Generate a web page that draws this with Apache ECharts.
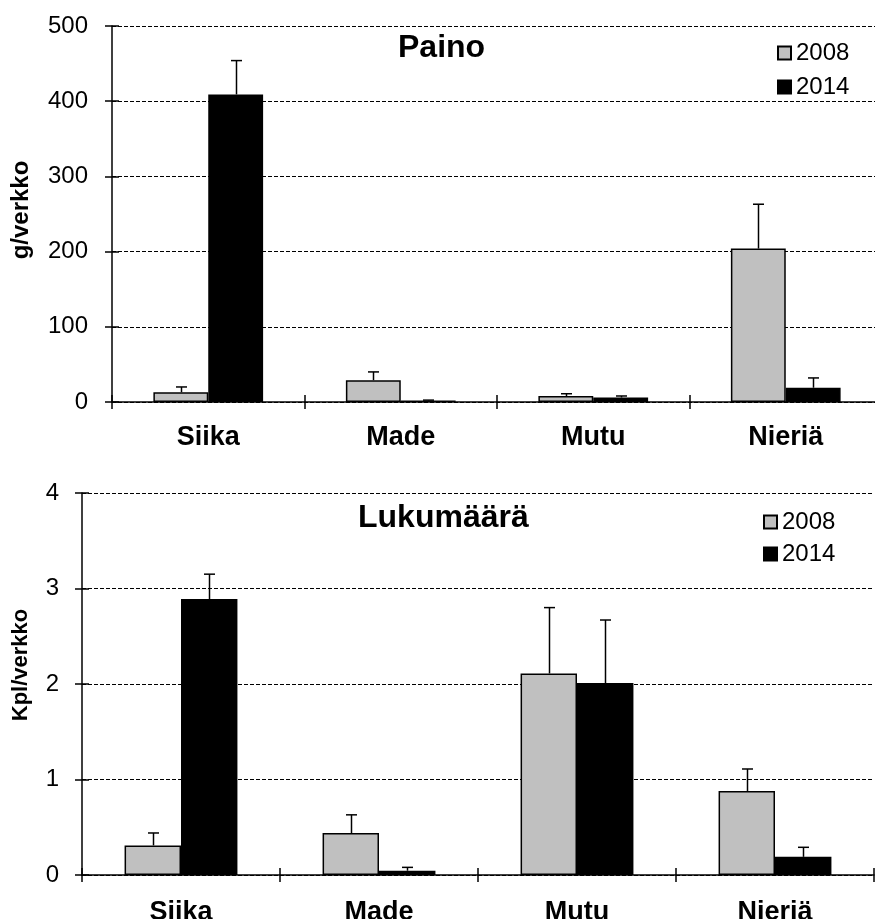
<!DOCTYPE html>
<html>
<head>
<meta charset="utf-8">
<script src="https://cdn.jsdelivr.net/npm/echarts@6/dist/echarts.min.js"></script>
<style>html,body{margin:0;padding:0;background:#fff}#c{width:875px;height:919px}</style>
</head>
<body>
<div id="c"></div>
<script>
var categories = ['Siika', 'Made', 'Mutu', 'Nieriä'];
var seriesNames = ['2008', '2014'];
// Paino (g/verkko)
var weight2008 = [13, 29, 8, 204];
var weight2008Err = [7, 11, 3, 59];
var weight2014 = [409, 2, 6, 19];
var weight2014Err = [45, 0.5, 2, 13];
// Lukumäärä (Kpl/verkko)
var count2008 = [0.31, 0.44, 2.11, 0.88];
var count2008Err = [0.13, 0.19, 0.69, 0.23];
var count2014 = [2.89, 0.045, 2.01, 0.19];
var count2014Err = [0.26, 0.035, 0.66, 0.10];
var weightTicks = [0, 100, 200, 300, 400, 500];
var countTicks = [0, 1, 2, 3, 4];

var FONT = 'Liberation Sans, Arial, sans-serif';
var BAR_FRAC = 0.285;
var GRAY = '#c0c0c0';

function errData(vals, errs) {
  return vals.map(function (v, i) { return [i, v, v + errs[i]]; });
}
function errRender(side) {
  return function (params, api) {
    var x = api.value(0), v = api.value(1), e = api.value(2);
    var p = api.coord([x, v]);
    var pe = api.coord([x, e]);
    var cw = api.size([1, 0])[0];
    var bw = cw * BAR_FRAC;
    var cx = Math.round(p[0] + side * bw / 2) + 0.5;
    var half = 5.5;
    var st = { stroke: '#000', lineWidth: 1.5 };
    return {
      type: 'group', children: [
        { type: 'line', shape: { x1: cx, y1: p[1], x2: cx, y2: pe[1] }, style: st },
        { type: 'line', shape: { x1: cx - half, y1: pe[1], x2: cx + half, y2: pe[1] }, style: st }
      ]
    };
  };
}

function xAxes(gridIndex, margin) {
  return [{
    type: 'category', gridIndex: gridIndex, data: categories,
    axisLine: { lineStyle: { color: '#000', width: 1.5 } },
    axisTick: { show: true, length: 7, lineStyle: { color: '#000', width: 1.5 } },
    axisLabel: { color: '#000', fontFamily: FONT, fontWeight: 'bold', fontSize: 27, margin: margin },
    splitLine: { show: false }
  }, {
    type: 'category', gridIndex: gridIndex, data: categories, position: 'bottom',
    axisLine: { show: false },
    axisTick: { show: true, inside: true, length: 7, lineStyle: { color: '#000', width: 1.5 } },
    axisLabel: { show: false }, splitLine: { show: false }
  }];
}
function yAxes(gridIndex, max, interval, name, nameGap, labelMargin, nameSize, namePad) {
  return [{
    type: 'value', gridIndex: gridIndex, min: 0, max: max, interval: interval,
    name: name, nameLocation: 'middle', nameGap: nameGap,
    nameTextStyle: { color: '#000', fontFamily: FONT, fontWeight: 'bold', fontSize: nameSize, padding: [0, 0, 0, namePad] },
    axisLine: { show: true, lineStyle: { color: '#000', width: 1.5 } },
    axisTick: { show: true, length: 7, lineStyle: { color: '#000', width: 1.5 } },
    axisLabel: { color: '#000', fontFamily: FONT, fontSize: 24, margin: labelMargin },
    splitLine: { show: true, lineStyle: { color: '#000', width: 1, type: [4, 2] } }
  }, {
    type: 'value', gridIndex: gridIndex, min: 0, max: max, interval: interval, position: 'left',
    axisLine: { show: false },
    axisTick: { show: true, inside: true, length: 7, lineStyle: { color: '#000', width: 1.5 } },
    axisLabel: { show: false }, splitLine: { show: false }
  }];
}
function barSeries(name, data, xi, yi, color) {
  return {
    type: 'bar', name: name, data: data, xAxisIndex: xi, yAxisIndex: yi,
    barWidth: (BAR_FRAC * 100) + '%', barGap: '0%',
    itemStyle: { color: color, borderColor: '#000', borderWidth: 1.5 },
    emphasis: { disabled: true }, z: 2, animation: false
  };
}
function errSeries(vals, errs, xi, yi, side) {
  return {
    type: 'custom', name: 'err', data: errData(vals, errs), xAxisIndex: xi, yAxisIndex: yi,
    renderItem: errRender(side), z: 5, animation: false, silent: true
  };
}
function legend(left, top, gap) {
  return {
    data: seriesNames, orient: 'vertical', left: left, top: top, itemGap: gap,
    itemWidth: 13, itemHeight: 13, icon: 'rect', selectedMode: false,
    textStyle: { color: '#000', fontFamily: FONT, fontSize: 24, padding: [0, 0, 0, 0] }
  };
}

var chart = echarts.init(document.getElementById('c'), null, { renderer: 'canvas' });
var xs = xAxes(0, 22).concat(xAxes(1, 24));
var ys = yAxes(0, 500, 100, 'g/verkko', 79, 24, 24, 8).concat(yAxes(1, 4, 1, 'Kpl/verkko', 50, 23, 22, 38));
chart.setOption({
  animation: false,
  backgroundColor: '#fff',
  grid: [
    { left: 112, top: 26, width: 770, height: 376, outerBoundsMode: 'none', containLabel: false },
    { left: 82, top: 493, width: 792, height: 382, outerBoundsMode: 'none', containLabel: false }
  ],
  xAxis: xs,
  yAxis: ys,
  legend: [legend(772, 36, 10), legend(758, 505, 8)],
  graphic: [
    { type: 'text', left: 398, top: 32, style: { text: 'Paino', font: 'bold 32px ' + FONT, fill: '#000' } },
    { type: 'text', left: 358, top: 502, style: { text: 'Lukumäärä', font: 'bold 32px ' + FONT, fill: '#000' } }
  ],
  series: [
    barSeries('2008', weight2008, 0, 0, GRAY),
    barSeries('2014', weight2014, 0, 0, '#000'),
    errSeries(weight2008, weight2008Err, 0, 0, -1),
    errSeries(weight2014, weight2014Err, 0, 0, 1),
    barSeries('2008', count2008, 2, 2, GRAY),
    barSeries('2014', count2014, 2, 2, '#000'),
    errSeries(count2008, count2008Err, 2, 2, -1),
    errSeries(count2014, count2014Err, 2, 2, 1)
  ]
});
</script>
</body>
</html>
